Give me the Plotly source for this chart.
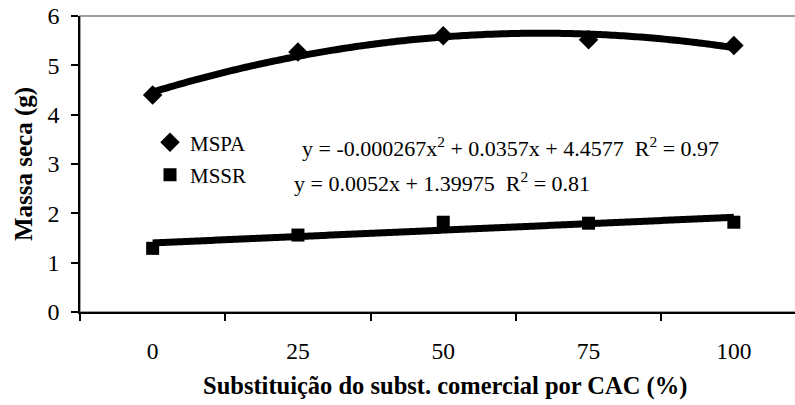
import numpy as np
import plotly.graph_objects as go

# Treatments: replacement of commercial substrate by CAC (%)
doses = [0, 25, 50, 75, 100]
tick_labels = ["0", "25", "50", "75", "100"]

# Dry mass (g)
mspa = [4.40, 5.27, 5.60, 5.52, 5.40]
mssr = [1.29, 1.56, 1.82, 1.80, 1.82]

# Fitted trend coefficients
mspa_fit = [-0.000267, 0.0357, 4.4577]   # quadratic
mssr_fit = [0.0052, 1.39975]             # linear
mspa_r2 = "0.97"
mssr_r2 = "0.81"

x_title = "<b>Substituição do subst. comercial por CAC (%)</b>"
y_title = "<b>Massa seca (g)</b>"

serif = "Liberation Serif, Times New Roman, serif"
W, H = 795, 405
L, T, B = 80, 15.5, 92.7
cat_w = 145.3                      # pixel width of one category slot
plot_w = W - L
plot_h = H - T - B
x_lo = -12.5
x_hi = x_lo + plot_w / cat_w * 25

xs = np.linspace(doses[0], doses[-1], 201)
fig = go.Figure()

fig.add_trace(go.Scatter(
    x=doses, y=mspa, mode="markers", name="MSPA",
    marker=dict(symbol="diamond", size=15, color="black"),
    legendgroup="a"))
fig.add_trace(go.Scatter(
    x=doses, y=mssr, mode="markers", name="MSSR",
    marker=dict(symbol="square", size=13, color="black"),
    legendgroup="b"))
fig.add_trace(go.Scatter(
    x=xs, y=np.polyval(mspa_fit, xs), mode="lines",
    line=dict(color="black", width=7, simplify=False), showlegend=False))
fig.add_trace(go.Scatter(
    x=xs, y=np.polyval(mssr_fit, xs), mode="lines",
    line=dict(color="black", width=7, simplify=False), showlegend=False))

eq1 = ("y = %.6fx<sup>2</sup> + %.4fx + %.4f  R<sup>2</sup> = %s"
       % (mspa_fit[0], mspa_fit[1], mspa_fit[2], mspa_r2))
eq2 = ("y = %.4fx + %.5f  R<sup>2</sup> = %s"
       % (mssr_fit[0], mssr_fit[1], mssr_r2))

fig.add_annotation(text=eq1, xref="paper", yref="paper",
                   x=(300 - L) / plot_w, y=1 - (146.7 - T) / plot_h,
                   xanchor="left", yanchor="middle", showarrow=False,
                   font=dict(family=serif, size=22, color="black"))
fig.add_annotation(text=eq2, xref="paper", yref="paper",
                   x=(292 - L) / plot_w, y=1 - (181.7 - T) / plot_h,
                   xanchor="left", yanchor="middle", showarrow=False,
                   font=dict(family=serif, size=22, color="black"))

# x-axis title, centred on the full category span
fig.add_annotation(text=x_title, xref="paper", yref="paper",
                   x=(445 - L) / plot_w, y=-(387 - (H - B)) / plot_h,
                   xanchor="center", yanchor="middle", showarrow=False,
                   font=dict(family=serif, size=24.5, color="black"))

# grey frame around the plot area
fig.add_shape(type="rect", xref="paper", yref="paper", x0=0, y0=0, x1=1.05, y1=1,
              line=dict(color="#808080", width=1.5), layer="below")

fig.update_layout(
    width=W, height=H,
    margin=dict(l=L, r=0, t=T, b=B),
    paper_bgcolor="white", plot_bgcolor="white",
    font=dict(family=serif, color="black"),
    showlegend=True,
    legend=dict(x=(150 - L) / plot_w, y=1 - (122 - T) / plot_h,
                xanchor="left", yanchor="top",
                font=dict(family=serif, size=21, color="black"),
                bgcolor="rgba(0,0,0,0)", tracegroupgap=2,
                traceorder="grouped", itemwidth=30),
    xaxis=dict(
        range=[x_lo, x_hi], tickmode="array", tickvals=doses, ticktext=tick_labels,
        ticks="", showgrid=False, zeroline=False,
        showline=True, linecolor="black", linewidth=1.5,
        tickfont=dict(family=serif, size=23.5, color="black"), ticklabelstandoff=17,
        minor=dict(tickmode="linear", tick0=-12.5, dtick=25, ticks="outside",
                   ticklen=7, tickcolor="black", tickwidth=1.5, showgrid=False),
    ),
    yaxis=dict(
        range=[0, 6], tickmode="linear", tick0=0, dtick=1,
        ticks="outside", ticklen=7, tickcolor="black", tickwidth=1.5,
        showgrid=False, zeroline=False,
        showline=True, linecolor="black", linewidth=1.5,
        tickfont=dict(family=serif, size=24, color="black"), ticklabelstandoff=7,
        title=dict(text=y_title,
                   font=dict(family=serif, size=25, color="black"), standoff=8),
    ),
)

fig.write_html("out.html")
